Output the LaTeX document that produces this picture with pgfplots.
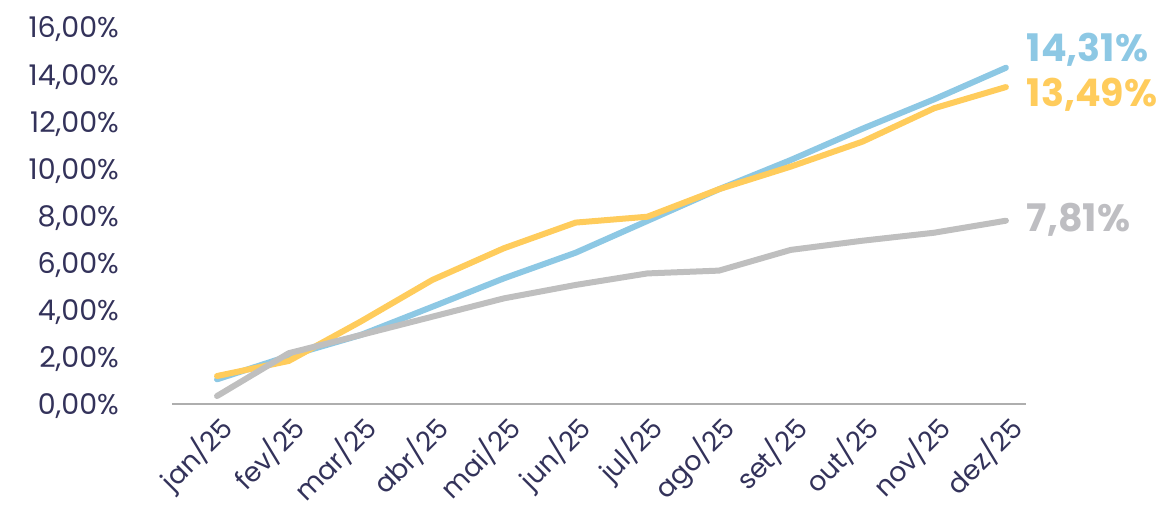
\documentclass[border=0pt]{standalone}
\usepackage{fontspec}
\setmainfont{Poppins}
\usepackage{pgfplots}
\pgfplotsset{compat=1.18}
\definecolor{navy}{HTML}{33325A}
\definecolor{lblue}{HTML}{8DC8E4}
\definecolor{lyellow}{HTML}{FFCC5C}
\definecolor{lgray}{HTML}{BFBFBF}
\definecolor{tgray}{HTML}{BEBEC2}
\definecolor{axgray}{HTML}{AEAEAE}
\begin{document}
\begin{tikzpicture}[x=1pt,y=1pt]
\path[use as bounding box] (-172,-100.5) rectangle (991,404.5);
\begin{axis}[
  at={(0,0)}, anchor=south west,
  scale only axis, width=854pt, height=376.5pt,
  xmin=-0.628, xmax=11.28, ymin=0, ymax=16,
  clip=false,
  axis x line=bottom, axis y line=left,
  x axis line style={draw=axgray, line width=2pt, -},
  y axis line style={draw=none},
  major tick length=0pt, tick style={draw=none},
  ytick={0,2,4,6,8,10,12,14,16},
  yticklabels={{0,00\%},{2,00\%},{4,00\%},{6,00\%},{8,00\%},{10,00\%},{12,00\%},{14,00\%},{16,00\%}},
  yticklabel style={font=\fontsize{28.5}{30}\selectfont, text=navy, anchor=base east, inner sep=0pt, xshift=-53pt, yshift=-10pt},
  xtick={0,1,2,3,4,5,6,7,8,9,10,11},
  xticklabels={jan/25,fev/25,mar/25,abr/25,mai/25,jun/25,jul/25,ago/25,set/25,out/25,nov/25,dez/25},
  xticklabel style={xshift=11pt, yshift=-19pt, font=\fontsize{27}{29}\selectfont, text=navy, rotate=45, anchor=east, inner sep=0pt},
  every axis plot/.append style={line width=6pt, line cap=round, line join=round, mark=none},
]
\addplot[lblue] coordinates {(0,1.07) (1,2.06) (2,2.95) (3,4.15) (4,5.36) (5,6.45) (6,7.80) (7,9.15) (8,10.39) (9,11.72) (10,12.97) (11,14.31)};
\addplot[lyellow] coordinates {(0,1.21) (1,1.85) (2,3.52) (3,5.29) (4,6.64) (5,7.73) (6,7.98) (7,9.15) (8,10.11) (9,11.17) (10,12.59) (11,13.49)};
\addplot[lgray] coordinates {(0,0.36) (1,2.18) (2,2.95) (3,3.73) (4,4.51) (5,5.08) (6,5.57) (7,5.69) (8,6.57) (9,6.96) (10,7.30) (11,7.81)};
\node[anchor=base west, inner sep=0pt, font=\bfseries\fontsize{38}{38}\selectfont, text=lblue] at (axis cs:11.29,14.57) {14,31\%};
\node[anchor=base west, inner sep=0pt, font=\bfseries\fontsize{38}{38}\selectfont, text=lyellow] at (axis cs:11.29,12.66) {13,49\%};
\node[anchor=base west, inner sep=0pt, font=\bfseries\fontsize{38}{38}\selectfont, text=tgray] at (axis cs:11.29,7.34) {7,81\%};
\end{axis}
\end{tikzpicture}
\end{document}
